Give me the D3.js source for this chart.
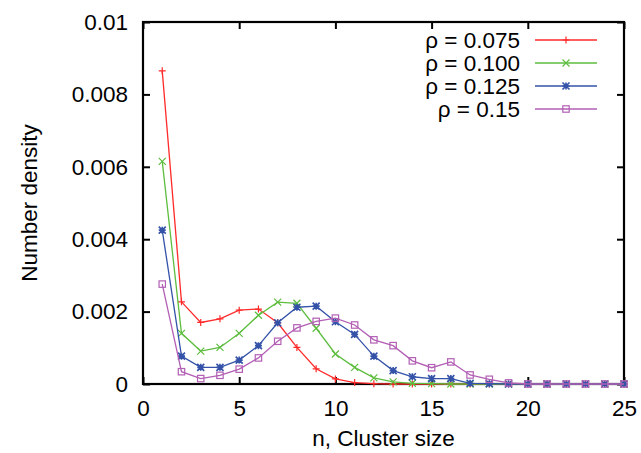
<!DOCTYPE html>
<html><head><meta charset="utf-8">
<script src="https://cdn.jsdelivr.net/npm/d3@7"></script>
<style>body{margin:0;background:#fff}svg{display:block}text{font-family:"Liberation Sans",Arial,Helvetica,sans-serif;fill:#000}</style>
</head><body>
<script>
const nValues = [1,2,3,4,5,6,7,8,9,10,11,12,13,14,15,16,17,18,19,20,21,22,23,24,25];
const rho0075 = [0.00865,0.00227,0.00170,0.00180,0.00204,0.00207,0.00169,0.00101,0.00042,0.00014,0.00004,0.00001,0,0,0,0,0,0,0,0,0,0,0,0,0];
const rho0100 = [0.00615,0.00140,0.00091,0.00101,0.00140,0.00190,0.00226,0.00223,0.00154,0.00083,0.00046,0.00017,0.00006,0.00002,0.00001,0,0,0,0,0,0,0,0,0,0];
const rho0125 = [0.00425,0.00077,0.00046,0.00046,0.00066,0.00106,0.00169,0.00212,0.00215,0.00172,0.00137,0.00077,0.00037,0.00020,0.00015,0.00015,0.00002,0.00001,0,0,0,0,0,0,0];
const rho0150 = [0.00276,0.00034,0.00015,0.00024,0.00041,0.00072,0.00118,0.00155,0.00173,0.00182,0.00163,0.00122,0.00106,0.00064,0.00045,0.00061,0.00025,0.00013,0.00003,0,0,0,0,0,0];
const seriesNames = ["ρ = 0.075","ρ = 0.100","ρ = 0.125","ρ = 0.15"];
const seriesColors = ["#ff2a2a","#5dbd3e","#3352a8","#b25fb4"];
const seriesMarkers = ["plus","cross","star","square"];
const xTicks = [0,5,10,15,20,25];
const yTicks = [0,0.002,0.004,0.006,0.008,0.01];
const yTickLabels = ["0","0.002","0.004","0.006","0.008","0.01"];

const W=641,H=453;
const m={l:143,r:17,t:22,b:69};
const svg=d3.select("body").append("svg").attr("width",W).attr("height",H);
const x=d3.scaleLinear().domain([0,25]).range([m.l,W-m.r]);
const y=d3.scaleLinear().domain([0,0.01]).range([H-m.b,m.t]);
const fs=22.5;
const ff="Liberation Sans, Arial, sans-serif";

const tl=7;
svg.append("g").attr("transform",`translate(0,${y(0)})`)
  .call(d3.axisBottom(x).tickValues(xTicks).tickSize(-tl).tickPadding(16).tickFormat(d3.format("d")))
  .call(g=>{g.select(".domain").remove();g.selectAll("line").attr("stroke","#000").attr("stroke-width",2);g.selectAll("text").attr("font-size",fs).attr("font-family",ff).attr("fill","#000");});
svg.append("g").attr("transform",`translate(0,${y(0.01)})`)
  .call(d3.axisTop(x).tickValues(xTicks).tickSize(-tl).tickFormat(""))
  .call(g=>{g.select(".domain").remove();g.selectAll("line").attr("stroke","#000").attr("stroke-width",2);});
svg.append("g").attr("transform",`translate(${x(0)},0)`)
  .call(d3.axisLeft(y).tickValues(yTicks).tickSize(-tl).tickPadding(15).tickFormat((d,i)=>yTickLabels[i]))
  .call(g=>{g.select(".domain").remove();g.selectAll("line").attr("stroke","#000").attr("stroke-width",2);g.selectAll("text").attr("font-size",fs).attr("font-family",ff).attr("fill","#000");});
svg.append("g").attr("transform",`translate(${x(25)},0)`)
  .call(d3.axisRight(y).tickValues(yTicks).tickSize(-tl).tickFormat(""))
  .call(g=>{g.select(".domain").remove();g.selectAll("line").attr("stroke","#000").attr("stroke-width",2);});
svg.append("rect").attr("x",x(0)).attr("y",y(0.01)).attr("width",x(25)-x(0)).attr("height",y(0)-y(0.01))
  .attr("fill","none").attr("stroke","#000").attr("stroke-width",2.2);

svg.append("text").attr("x",(x(0)+x(25))/2).attr("y",446).attr("text-anchor","middle").attr("font-size",fs).attr("font-family",ff).text("n, Cluster size");
svg.append("text").attr("transform",`translate(37,${(y(0)+y(0.01))/2}) rotate(-90)`).attr("text-anchor","middle").attr("font-size",fs).attr("font-family",ff).text("Number density");

function marker(g,type,cx,cy,color){
  const s=3.5;
  if(type==="plus"){
    g.append("path").attr("d",`M${cx-s},${cy}H${cx+s}M${cx},${cy-s}V${cy+s}`).attr("stroke",color).attr("stroke-width",1.2).attr("fill","none");
  } else if(type==="cross"){
    g.append("path").attr("d",`M${cx-s},${cy-s}L${cx+s},${cy+s}M${cx-s},${cy+s}L${cx+s},${cy-s}`).attr("stroke",color).attr("stroke-width",1.2).attr("fill","none");
  } else if(type==="star"){
    g.append("path").attr("d",`M${cx-s},${cy-s}L${cx+s},${cy+s}M${cx-s},${cy+s}L${cx+s},${cy-s}M${cx-s},${cy}H${cx+s}M${cx},${cy-s}V${cy+s}`).attr("stroke",color).attr("stroke-width",1.6).attr("fill","none");
  } else {
    g.append("rect").attr("x",cx-3.2).attr("y",cy-3.2).attr("width",6.4).attr("height",6.4).attr("stroke",color).attr("stroke-width",1.2).attr("fill","none");
  }
}

const allSeries=[rho0075,rho0100,rho0125,rho0150];
const line=d3.line().x((d,i)=>x(nValues[i])).y(d=>y(d));
allSeries.forEach((vals,k)=>{
  const g=svg.append("g");
  g.append("path").datum(vals).attr("d",line).attr("fill","none").attr("stroke",seriesColors[k]).attr("stroke-width",1.3);
  vals.forEach((v,i)=>marker(g,seriesMarkers[k],x(nValues[i]),y(v),seriesColors[k]));
});

const lg=svg.append("g");
seriesNames.forEach((name,k)=>{
  const yy=40+k*23;
  lg.append("text").attr("x",520).attr("y",yy).attr("dy","0.35em").attr("text-anchor","end").attr("font-size",fs).attr("font-family",ff).text(name);
  lg.append("line").attr("x1",535).attr("x2",597).attr("y1",yy).attr("y2",yy).attr("stroke",seriesColors[k]).attr("stroke-width",1.3);
  marker(lg,seriesMarkers[k],566,yy,seriesColors[k]);
});
</script>
</body></html>
